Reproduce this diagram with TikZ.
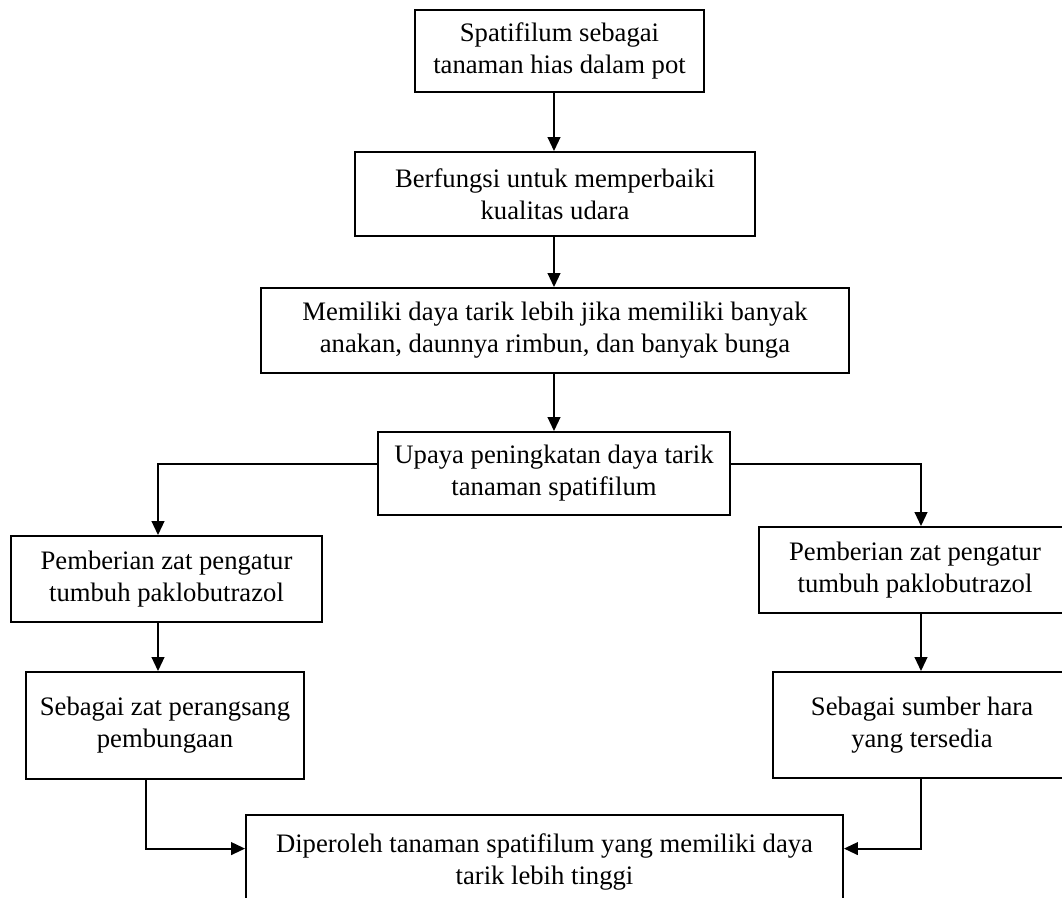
\documentclass[tikz,border=0pt]{standalone}
\usepackage{fontspec}
\setmainfont{Liberation Serif}
\usepackage{tikz}
\usetikzlibrary{calc,arrows.meta}

\begin{document}
\begin{tikzpicture}[
    x=0.75pt, y=-0.75pt,
    box/.style={draw, line width=1.4pt, inner sep=0pt, align=center,
        font=\fontsize{20}{24}\selectfont},
    sized/.style 2 args={minimum width={#1*0.75pt}, minimum height={#2*0.75pt}},
    arr/.style={-{Triangle[length=10.5pt, width=9.5pt]}, line width=1.5pt},
]
\useasboundingbox (0,0) rectangle (1062,897);
\clip (0,0) rectangle (1062,897);

% === Kolom tengah ===
\node[box, sized={289}{82}] (spath) at (559.5, 51) {Spatifilum sebagai\\tanaman hias dalam pot};
\node[box, sized={400}{84}] (fungsi) at (555, 194) {Berfungsi untuk memperbaiki\\kualitas udara};
\node[box, sized={588}{85}] (daya) at (555, 330.5) {Memiliki daya tarik lebih jika memiliki banyak\\anakan, daunnya rimbun, dan banyak bunga};
\node[box, sized={352}{83}] (upaya) at (554, 473.5) {Upaya peningkatan daya tarik\\tanaman spatifilum};

% === Cabang kiri dan kanan ===
\node[box, sized={311}{86}] (beriL) at (166.5, 579) {Pemberian zat pengatur\\tumbuh paklobutrazol};
\node[box, sized={278}{107}] (sebL) at (165, 725.5) {Sebagai zat perangsang\\pembungaan};
\node[box, sized={312}{86}] (beriR) at (915, 570) {Pemberian zat pengatur\\tumbuh paklobutrazol};
\node[box, sized={298}{106}] (sebR) at (922, 725) {Sebagai sumber hara\\yang tersedia};

% === Hasil ===
\node[box, sized={597}{94}] (hasil) at (544.5, 862) {Diperoleh tanaman spatifilum yang memiliki daya\\tarik lebih tinggi};

% === Titik bantu ===
\coordinate (cx) at (554, 0);
\coordinate (lcol) at (158, 0);
\coordinate (lx) at (146, 0);
\coordinate (rx) at (921, 0);
\coordinate (brL) at ($(upaya.north west)!0.386!(upaya.south west)$);
\coordinate (brR) at ($(upaya.north east)!0.386!(upaya.south east)$);
\coordinate (inL) at ($(hasil.north west)!0.36!(hasil.south west)$);
\coordinate (inR) at ($(hasil.north east)!0.36!(hasil.south east)$);

% === Panah ===
\draw[arr] (cx |- spath.south) -- (fungsi.north -| cx);
\draw[arr] (cx |- fungsi.south) -- (daya.north -| cx);
\draw[arr] (cx |- daya.south) -- (upaya.north -| cx);
\draw[arr] (brL) -| (lcol |- beriL.north);
\draw[arr] (brR) -| (rx |- beriR.north);
\draw[arr] (lcol |- beriL.south) -- (lcol |- sebL.north);
\draw[arr] (rx |- beriR.south) -- (rx |- sebR.north);
\draw[arr] (lx |- sebL.south) |- (inL);
\draw[arr] (rx |- sebR.south) |- (inR);

\end{tikzpicture}
\end{document}
